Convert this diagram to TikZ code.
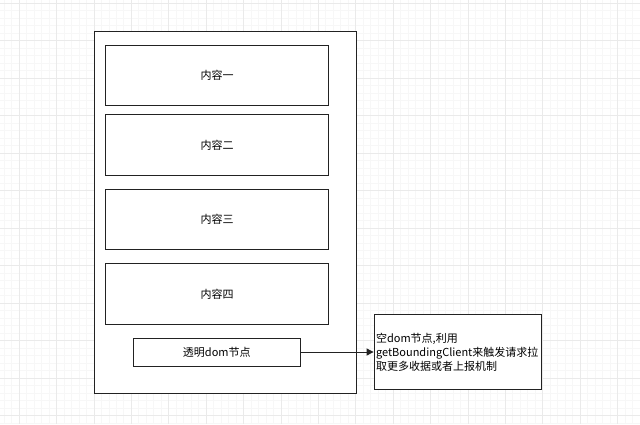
\documentclass[tikz,border=0pt]{standalone}
\usepackage{fontspec}
\setmainfont{Noto Sans CJK SC}
\usetikzlibrary{arrows.meta}
\definecolor{gridminor}{HTML}{F7F7F7}
\definecolor{gridmajor}{HTML}{EAEAEA}
\definecolor{edge}{HTML}{222222}
\tikzset{
  box/.style={draw=edge, line width=0.9pt, fill=white, inner sep=0pt, font=\fontsize{11}{14}\selectfont},
  link/.style={draw=edge, line width=0.9pt, -{Triangle[length=7pt,width=7pt]}}
}
\begin{document}
\begin{tikzpicture}[x=1pt,y=-1pt]
\useasboundingbox (0,0) rectangle (640,424);
\fill[white] (0,0) rectangle (640,424);
% grid
\foreach \i in {0,...,90} {
  \draw[gridminor, line width=0.5pt] ({19+7.48*(\i-3)},0) -- ({19+7.48*(\i-3)},424);
}
\foreach \i in {0,...,60} {
  \draw[gridminor, line width=0.5pt] (0,{3+7.5*\i}) -- (640,{3+7.5*\i});
}
\foreach \i in {0,...,17} {
  \draw[gridmajor, line width=0.6pt] ({19+37.4*\i},0) -- ({19+37.4*\i},424);
}
\foreach \i in {0,...,11} {
  \draw[gridmajor, line width=0.6pt] (0,{3+37.5*\i}) -- (640,{3+37.5*\i});
}
% outer frame
\node[box, minimum width=262pt, minimum height=362pt] (outer) at (225,212) {};
% content boxes
\node[box, minimum width=222.5pt, minimum height=60.5pt] (c1) at (217,75.2) {内容一};
\node[box, minimum width=222.5pt, minimum height=60.5pt] (c2) at (217,145) {内容二};
\node[box, minimum width=222.5pt, minimum height=60.5pt] (c3) at (217,219.5) {内容三};
\node[box, minimum width=222.5pt, minimum height=60.5pt] (c4) at (217,294) {内容四};
\node[box, minimum width=167.5pt, minimum height=28pt] (dom) at (216.8,352) {透明dom节点};
% note box
\node[box, minimum width=167.5pt, minimum height=75pt, text width=163.5pt, inner xsep=2pt, align=left] (note) at (457.8,351.8)
  {空dom节点,利用\\getBoundingClient来触发请求拉\\取更多收据或者上报机制};
\draw[link] (dom.east) -- (note.west |- dom.east);
\end{tikzpicture}
\end{document}
